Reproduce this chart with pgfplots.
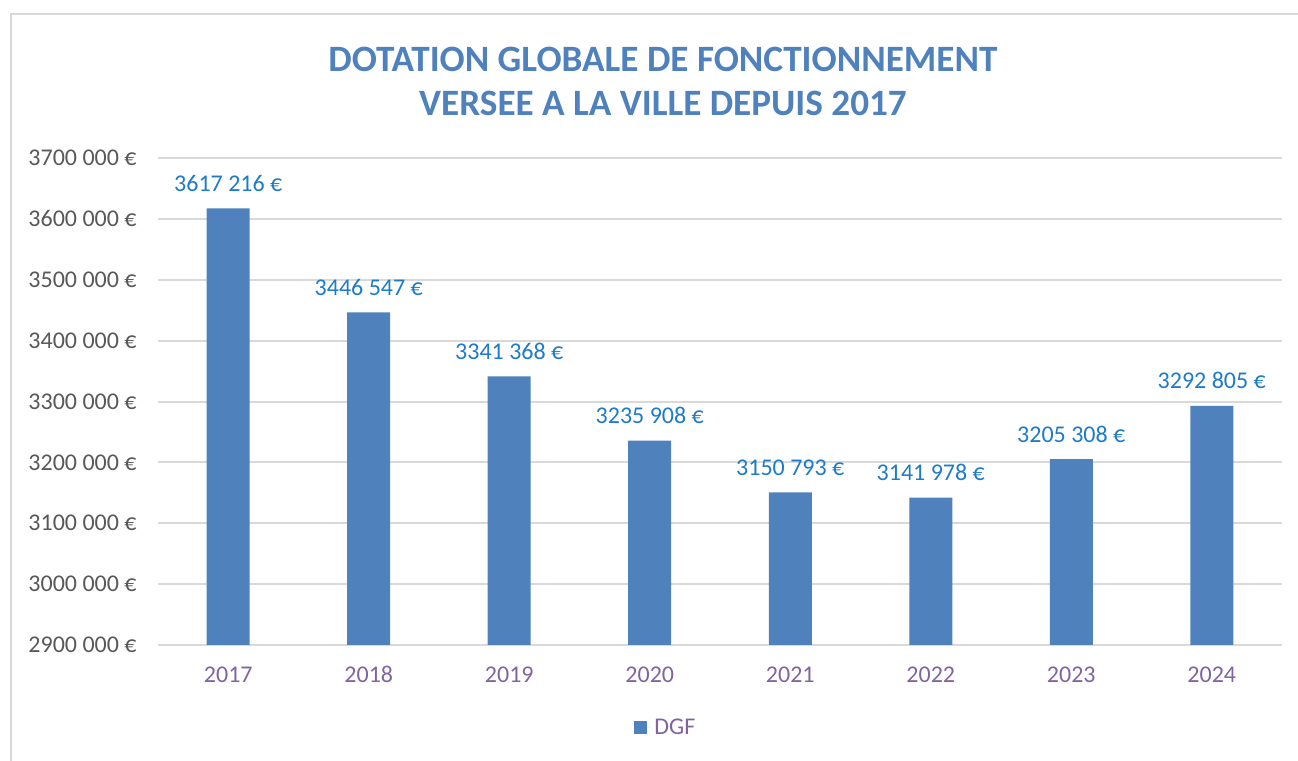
\documentclass[border=0pt]{standalone}
\usepackage{pgfplots}
\pgfplotsset{compat=1.18}
\usepackage{fontspec}
\setmainfont{Carlito}
\definecolor{barblue}{HTML}{4F81BD}
\definecolor{titleblue}{HTML}{4F81BD}
\definecolor{lblblue}{HTML}{1E7BC8}
\definecolor{ticklbl}{HTML}{595959}
\definecolor{xlbl}{HTML}{8064A2}
\definecolor{gridc}{HTML}{D9D9D9}
\begin{document}
\begin{tikzpicture}
\path[use as bounding box] (-79pt,-58pt) rectangle (570pt,322.5pt);
\draw[gridc, line width=1.3pt] (-73.5pt,-60pt) -- (-73.5pt,315.5pt) -- (575pt,315.5pt);
\begin{axis}[
  at={(0pt,0pt)}, anchor=south west,
  scale only axis,
  width=562pt, height=243.5pt,
  xmin=-0.5, xmax=7.5,
  ymin=2900000, ymax=3700000,
  scaled y ticks=false,
  ybar, bar width=21.5pt,
  axis line style={draw=none},
  major tick length=0pt,
  ymajorgrids, grid style={gridc, line width=1pt},
  ytick={2900000,3000000,3100000,3200000,3300000,3400000,3500000,3600000,3700000},
  yticklabels={2900 000 €,3000 000 €,3100 000 €,3200 000 €,3300 000 €,3400 000 €,3500 000 €,3600 000 €,3700 000 €},
  yticklabel style={font=\fontsize{12pt}{14pt}\selectfont, color=ticklbl, anchor=east, inner sep=0pt, xshift=-10.5pt},
  xtick={0,1,2,3,4,5,6,7},
  xticklabels={2017,2018,2019,2020,2021,2022,2023,2024},
  xticklabel style={font=\fontsize{12pt}{14pt}\selectfont, color=xlbl, anchor=center, inner sep=0pt, text height=8pt, text depth=0pt, yshift=-15pt},
  nodes near coords={\pgfplotspointmeta},
  point meta=explicit symbolic,
  every node near coord/.append style={font=\fontsize{12pt}{14pt}\selectfont, color=lblblue, anchor=center, yshift=12.5pt, inner sep=0pt},
  legend style={at={(0.4528,-0.1704)}, anchor=center, draw=none, font=\fontsize{12pt}{14pt}\selectfont, text=xlbl, inner sep=0pt},
  legend image code/.code={\fill[barblue] (0pt,-3.25pt) rectangle (6.5pt,3.25pt); \path (0pt,0pt) -- (8pt,0pt);},
  clip=false,
]
\addplot[fill=barblue, draw=none] table[meta=lbl, col sep=comma] {
x,y,lbl
0,3617216,3617 216 €
1,3446547,3446 547 €
2,3341368,3341 368 €
3,3235908,3235 908 €
4,3150793,3150 793 €
5,3141978,3141 978 €
6,3205308,3205 308 €
7,3292805,3292 805 €
};
\addlegendentry{DGF}
\end{axis}
\node[align=center, font=\fontsize{18.6pt}{22pt}\selectfont\bfseries, text=titleblue] at (252.5pt,282pt) {DOTATION GLOBALE DE FONCTIONNEMENT\\VERSEE A LA VILLE DEPUIS 2017};
\end{tikzpicture}
\end{document}
